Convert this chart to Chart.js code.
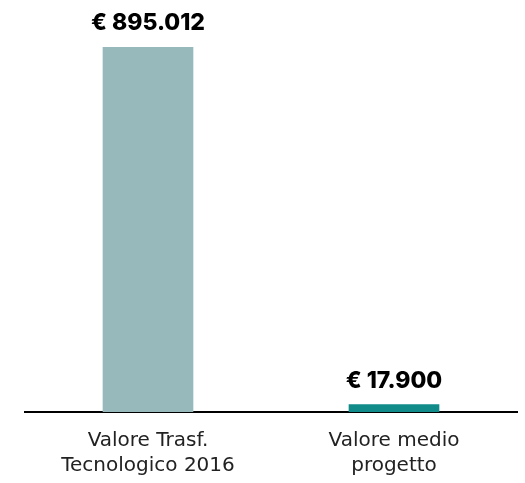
<!DOCTYPE html>
<html>
<head>
<meta charset="utf-8">
<script src="https://cdn.jsdelivr.net/npm/chart.js@4"></script>
<style>
  html, body { margin: 0; padding: 0; background: #fff; }
  #wrap { width: 525px; height: 483px; }
</style>
</head>
<body>
<div id="wrap"><canvas id="chart"></canvas></div>
<script>
const categories = [['Valore Trasf.', 'Tecnologico 2016'], ['Valore medio', 'progetto']];
const values = [895012, 17900];
const valueLabels = ['€ 895.012', '€ 17.900'];
const barColors = ['#97b9bb', '#118a8a'];

// draw the value above each bar
const valueLabelPlugin = {
    id: 'valueLabels',
    afterDatasetsDraw(chart) {
        const ctx = chart.ctx;
        const meta = chart.getDatasetMeta(0);
        ctx.save();
        ctx.font = '800 23px Inter';
        ctx.fillStyle = '#000';
        ctx.textAlign = 'center';
        ctx.textBaseline = 'middle';
        meta.data.forEach((bar, i) => {
            ctx.fillText(valueLabels[i], bar.x, bar.y - 24);
        });
        ctx.restore();
    }
};

const chart = document.querySelector('#chart').getContext('2d');

new Chart(chart, {
    type: 'bar',
    data: {
        labels: categories,
        datasets: [
            {
                data: values,
                backgroundColor: barColors,
                barThickness: 90
            }
        ]
    },
    options: {
        responsive: true,
        maintainAspectRatio: false,
        animation: false,
        layout: {
            padding: { top: 47, left: 25, right: 8, bottom: -11 }
        },
        plugins: {
            legend: { display: false },
            tooltip: { enabled: false }
        },
        scales: {
            y: {
                display: false,
                min: 0,
                max: 895012
            },
            x: {
                grid: { display: false, drawTicks: false },
                border: { color: '#000', width: 2 },
                ticks: {
                    color: '#222',
                    font: { family: 'DejaVu Sans', size: 20, lineHeight: 1.25 },
                    padding: 16,
                    maxRotation: 0
                }
            }
        }
    },
    plugins: [valueLabelPlugin]
});
</script>
</body>
</html>
